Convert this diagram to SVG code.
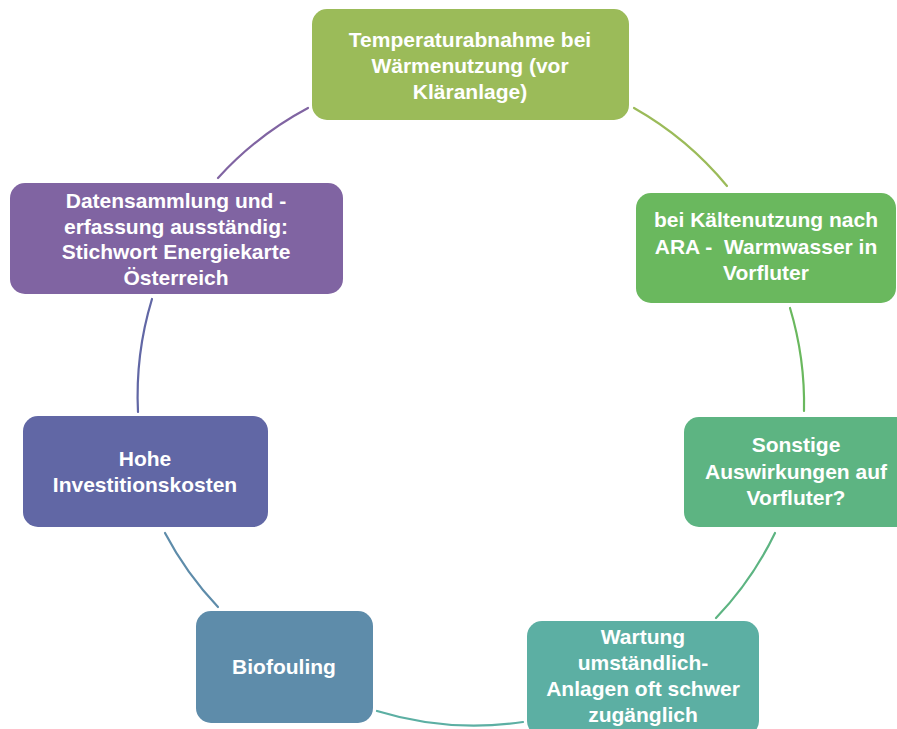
<svg xmlns="http://www.w3.org/2000/svg" width="897" height="729" viewBox="0 0 897 729">
<style>
.t{font-family:"Liberation Sans",Arial,sans-serif;font-weight:bold;font-size:21px;fill:#fff;text-anchor:middle}
.c{fill:none;stroke-width:2.2;stroke-linecap:round}
</style>
<rect width="897" height="729" fill="#fff"/>
<g id="connectors">
<path class="c" stroke="#8064A2" d="M218 178 A332 332 0 0 1 308 108"/>
<path class="c" stroke="#9BBB59" d="M634 108 A332 332 0 0 1 727 186"/>
<path class="c" stroke="#6AB85E" d="M790 308 A332 332 0 0 1 804 411"/>
<path class="c" stroke="#5DB482" d="M775 533 A332 332 0 0 1 716 618"/>
<path class="c" stroke="#5CAFA3" d="M523 722 A332 332 0 0 1 377 711"/>
<path class="c" stroke="#5E8CAA" d="M218 607 A332 332 0 0 1 165 533"/>
<path class="c" stroke="#6167A5" d="M138 412 A332 332 0 0 1 152 299"/>
</g>
<g id="n1">
<rect x="312" y="9" width="317" height="111" rx="15" fill="#9BBB59"/>
<text class="t" x="470" y="47">Temperaturabnahme bei</text>
<text class="t" x="470" y="73">Wärmenutzung (vor</text>
<text class="t" x="470" y="99">Kläranlage)</text>
</g>
<g id="n2">
<rect x="636" y="193" width="260" height="110" rx="15" fill="#6AB85E"/>
<text class="t" x="766" y="227">bei Kältenutzung nach</text>
<text class="t" x="766" y="254" xml:space="preserve">ARA -  Warmwasser in</text>
<text class="t" x="766" y="280">Vorfluter</text>
</g>
<g id="n3">
<rect x="684" y="417" width="230" height="110" rx="15" fill="#5DB482"/>
<text class="t" x="796" y="452">Sonstige</text>
<text class="t" x="796" y="479">Auswirkungen auf</text>
<text class="t" x="796" y="505">Vorfluter?</text>
</g>
<g id="n4">
<rect x="527" y="621" width="232" height="115" rx="15" fill="#5CAFA3"/>
<text class="t" x="643" y="644">Wartung</text>
<text class="t" x="643" y="670">umständlich-</text>
<text class="t" x="643" y="696">Anlagen oft schwer</text>
<text class="t" x="643" y="722">zugänglich</text>
</g>
<g id="n5">
<rect x="196" y="611" width="177" height="112" rx="15" fill="#5E8CAA"/>
<text class="t" x="284" y="674">Biofouling</text>
</g>
<g id="n6">
<rect x="23" y="416" width="245" height="111" rx="15" fill="#6167A5"/>
<text class="t" x="145" y="466">Hohe</text>
<text class="t" x="145" y="492">Investitionskosten</text>
</g>
<g id="n7">
<rect x="10" y="183" width="333" height="111" rx="15" fill="#8064A2"/>
<text class="t" x="176" y="208">Datensammlung und -</text>
<text class="t" x="176" y="233.5">erfassung ausständig:</text>
<text class="t" x="176" y="259">Stichwort Energiekarte</text>
<text class="t" x="176" y="284.5">Österreich</text>
</g>
</svg>
